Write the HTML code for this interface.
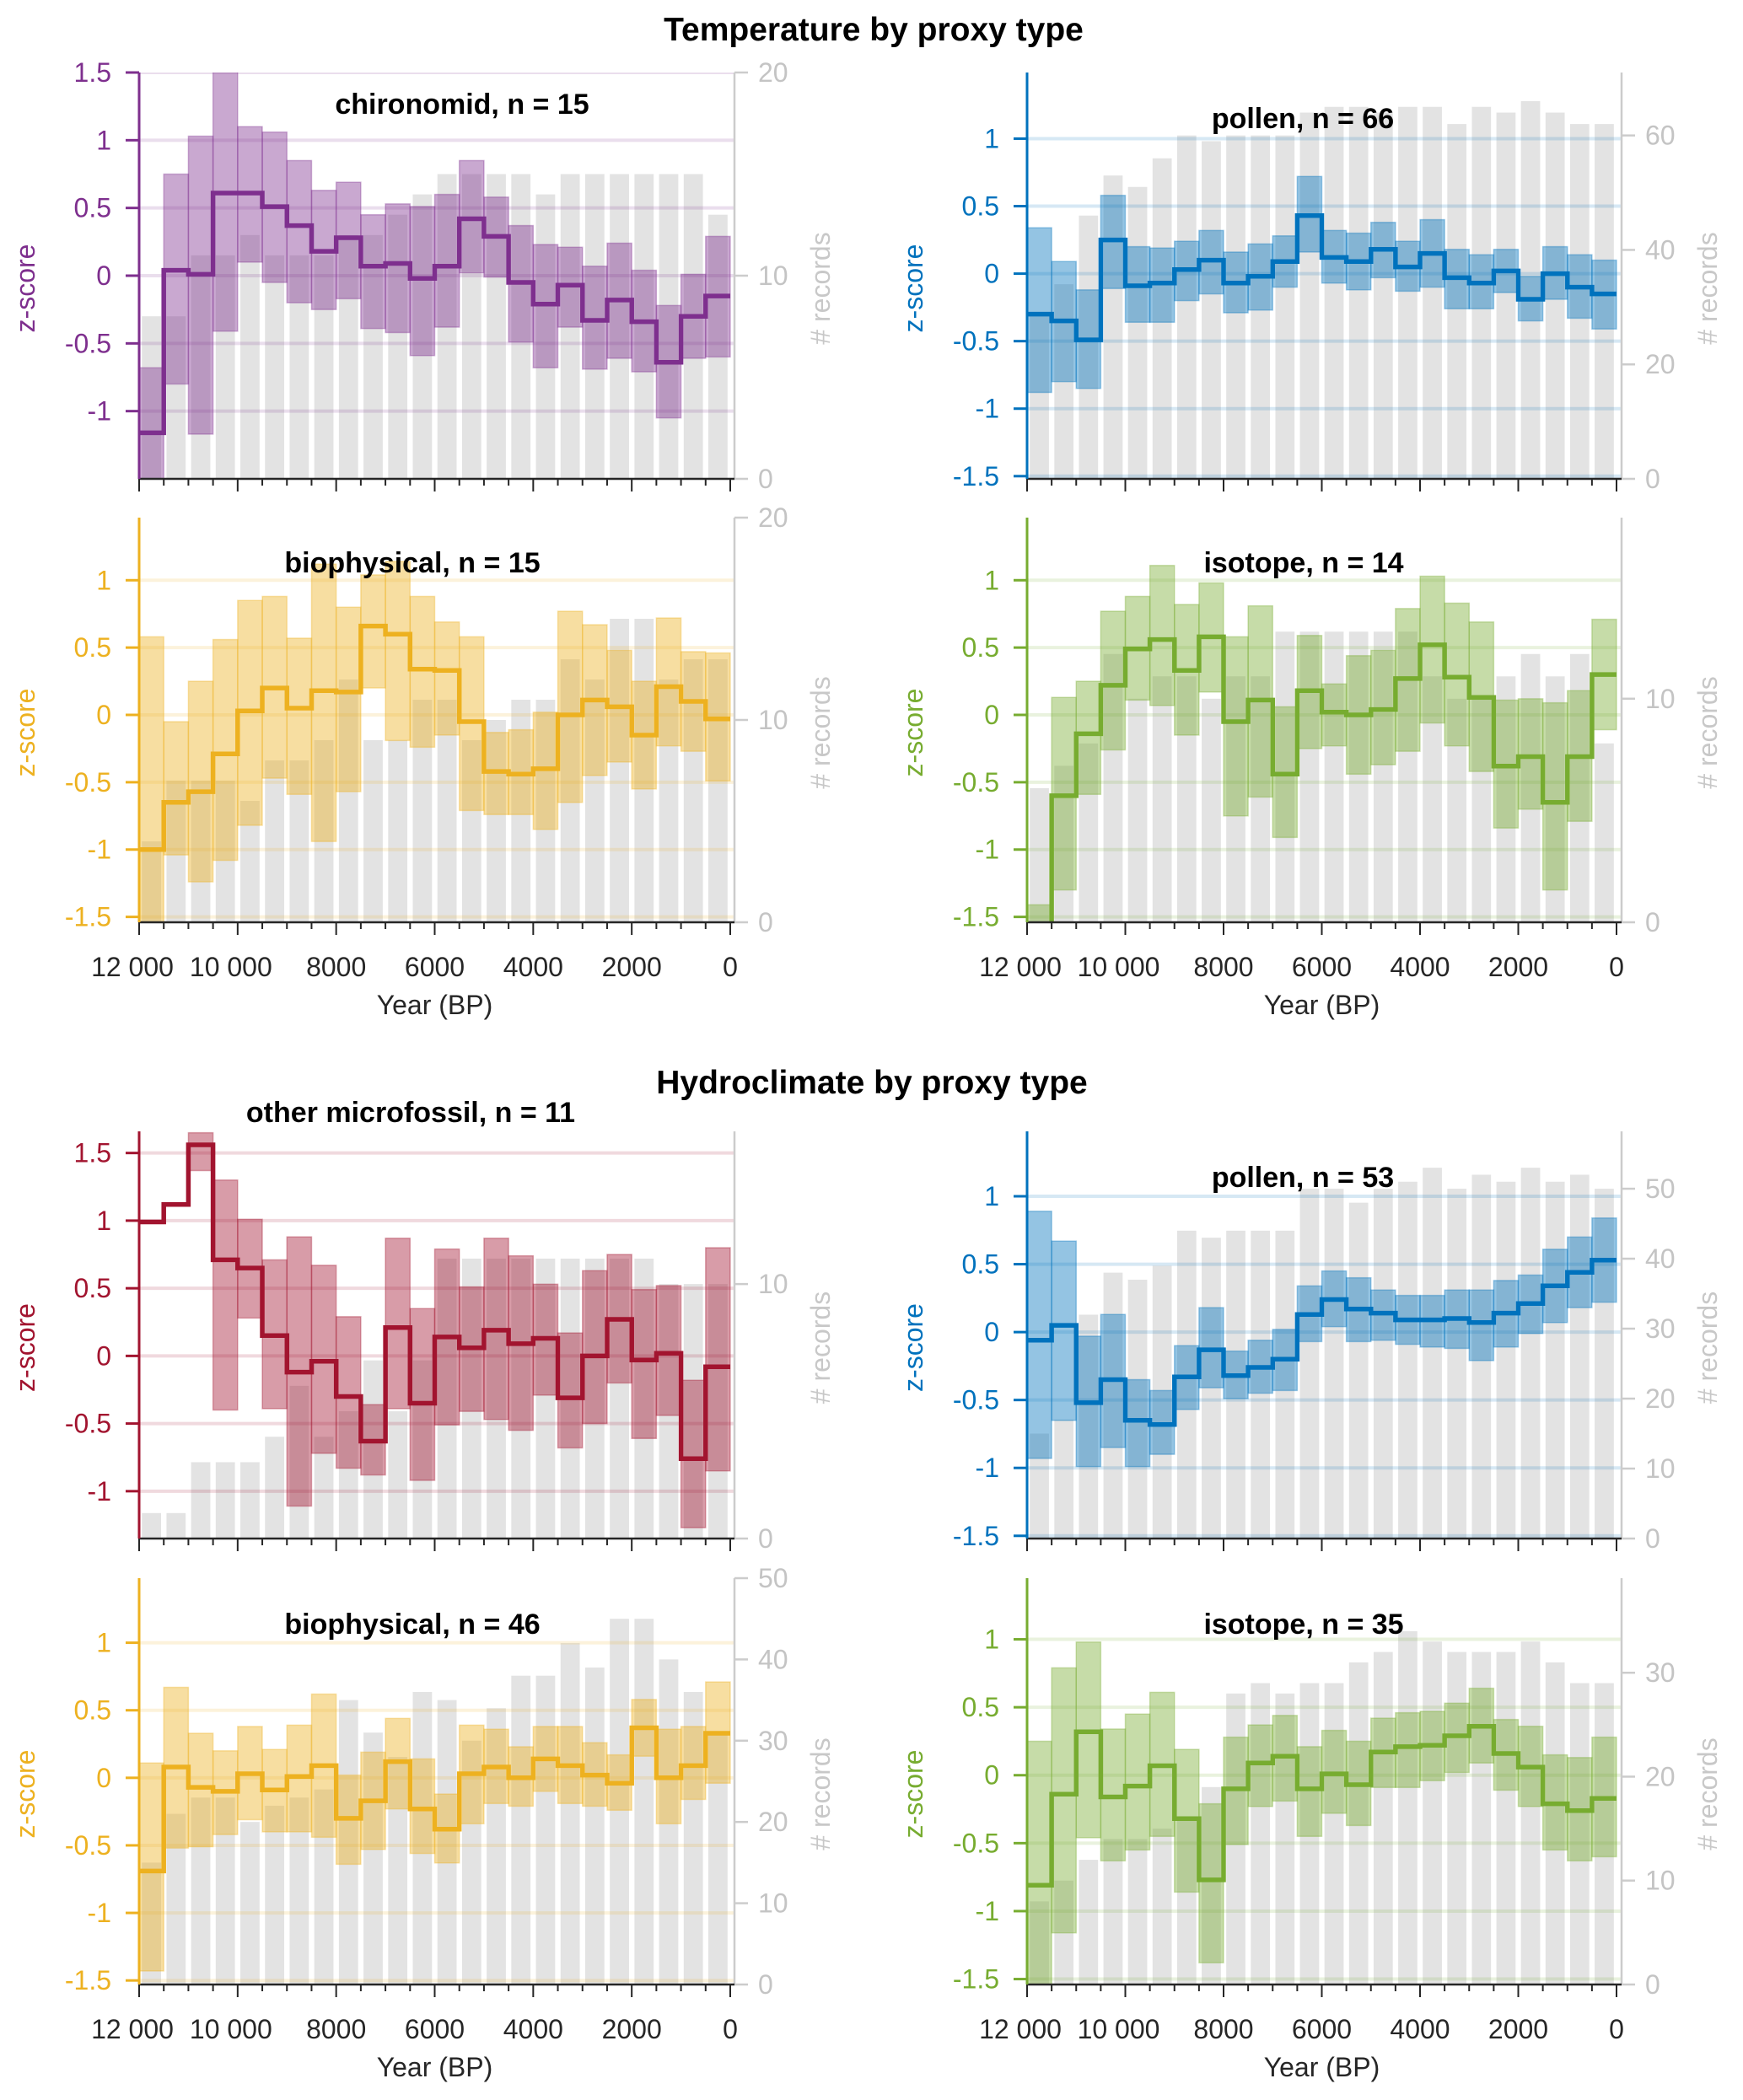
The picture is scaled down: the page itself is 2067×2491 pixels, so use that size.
<!DOCTYPE html>
<html><head><meta charset="utf-8"><style>
html,body{margin:0;padding:0;background:#fff;}
svg{display:block;font-family:"Liberation Sans",Arial,sans-serif;}
</style></head><body>
<svg id="chart" width="2067" height="2491" viewBox="0 0 2067 2491" xmlns="http://www.w3.org/2000/svg">
<text x="1036" y="48" text-anchor="middle" font-size="39" font-weight="bold" fill="#000">Temperature by proxy type</text>
<text x="1034" y="1297" text-anchor="middle" font-size="39" font-weight="bold" fill="#000">Hydroclimate by proxy type</text>
</svg>
<script>
const binCenters=[11750,11250,10750,10250,9750,9250,8750,8250,7750,7250,6750,6250,5750,5250,4750,4250,3750,3250,2750,2250,1750,1250,750,250];
const xTickValues=[12000,10000,8000,6000,4000,2000,0];
const xTickLabels=["12 000","10 000","8000","6000","4000","2000","0"];

const p1Mean=[-1.16,0.04,0.01,0.61,0.61,0.51,0.37,0.18,0.28,0.07,0.09,-0.02,0.07,0.42,0.29,-0.05,-0.21,-0.07,-0.33,-0.18,-0.34,-0.64,-0.30,-0.15];
const p1Hi=[-0.68,0.75,1.03,1.6,1.10,1.06,0.85,0.63,0.69,0.45,0.53,0.51,0.60,0.85,0.58,0.37,0.23,0.21,0.07,0.24,0.04,-0.22,0.01,0.29];
const p1Lo=[-1.65,-0.80,-1.17,-0.41,0.10,-0.05,-0.20,-0.25,-0.17,-0.39,-0.42,-0.59,-0.38,0.02,-0.01,-0.49,-0.68,-0.38,-0.69,-0.61,-0.71,-1.05,-0.61,-0.60];
const p1Count=[8,8,11,11,12,11,11,11,12,12,13,14,15,15,15,15,14,15,15,15,15,15,15,13];

const p2Mean=[-1.00,-0.65,-0.57,-0.29,0.03,0.20,0.05,0.18,0.17,0.66,0.60,0.34,0.33,-0.05,-0.42,-0.44,-0.40,0.00,0.11,0.06,-0.15,0.21,0.10,-0.03];
const p2Hi=[0.58,-0.05,0.25,0.56,0.85,0.88,0.57,1.12,0.80,1.04,1.14,0.88,0.69,0.58,-0.13,-0.11,0.02,0.77,0.67,0.48,0.25,0.72,0.47,0.46];
const p2Lo=[-1.6,-1.04,-1.24,-1.08,-0.82,-0.47,-0.59,-0.94,-0.57,0.20,-0.19,-0.24,-0.15,-0.71,-0.74,-0.74,-0.85,-0.65,-0.45,-0.35,-0.55,-0.23,-0.27,-0.49];
const p2Count=[4,7,7,7,6,8,8,9,12,9,9,11,11,9,10,11,11,13,12,15,15,12,13,13];

const p3Mean=[-0.30,-0.35,-0.49,0.25,-0.09,-0.07,0.03,0.10,-0.07,-0.02,0.09,0.43,0.12,0.09,0.18,0.05,0.15,-0.03,-0.07,0.02,-0.19,0.00,-0.10,-0.15];
const p3Hi=[0.34,0.09,-0.12,0.58,0.20,0.19,0.24,0.32,0.16,0.22,0.28,0.72,0.32,0.30,0.38,0.24,0.40,0.18,0.14,0.18,-0.02,0.20,0.14,0.10];
const p3Lo=[-0.88,-0.80,-0.85,-0.11,-0.36,-0.36,-0.20,-0.15,-0.29,-0.27,-0.10,0.16,-0.07,-0.12,-0.03,-0.13,-0.10,-0.26,-0.26,-0.14,-0.35,-0.19,-0.33,-0.41];
const p3Count=[29,34,46,53,51,56,60,59,60,60,60,64,65,65,64,65,65,62,65,64,66,64,62,62];

const p4Mean=[-1.6,-0.60,-0.14,0.22,0.49,0.56,0.33,0.58,-0.05,0.11,-0.44,0.18,0.02,0.00,0.04,0.27,0.52,0.28,0.13,-0.38,-0.31,-0.65,-0.31,0.30];
const p4Hi=[-1.41,0.13,0.25,0.77,0.88,1.11,0.82,0.98,0.58,0.81,0.06,0.59,0.23,0.44,0.48,0.79,1.03,0.83,0.69,0.11,0.12,0.09,0.18,0.71];
const p4Lo=[-1.6,-1.30,-0.59,-0.26,0.11,0.07,-0.15,0.17,-0.75,-0.61,-0.91,-0.25,-0.23,-0.44,-0.37,-0.27,-0.06,-0.23,-0.42,-0.84,-0.70,-1.30,-0.79,-0.11];
const p4Count=[6,7,8,12,10,11,11,10,11,11,13,13,13,13,13,13,11,10,10,11,12,11,12,8];

const p5Mean=[0.99,1.12,1.56,0.71,0.65,0.15,-0.12,-0.04,-0.30,-0.63,0.21,-0.35,0.14,0.06,0.19,0.09,0.13,-0.31,0.00,0.27,-0.03,0.02,-0.76,-0.08];
const p5Hi=[null,null,1.65,1.30,1.01,0.71,0.88,0.67,0.29,-0.36,0.87,0.35,0.79,0.51,0.87,0.74,0.53,0.17,0.63,0.75,0.49,0.52,-0.18,0.80];
const p5Lo=[null,null,1.37,-0.40,0.28,-0.39,-1.11,-0.72,-0.83,-0.88,-0.39,-0.92,-0.51,-0.41,-0.47,-0.55,-0.29,-0.68,-0.50,-0.20,-0.61,-0.44,-1.27,-0.85];
const p5Count=[1,1,3,3,3,4,6,4,5,7,5,7,11,11,11,11,11,11,11,11,11,10,10,10];

const p6Mean=[-0.69,0.08,-0.07,-0.10,0.03,-0.09,0.01,0.09,-0.30,-0.17,0.12,-0.23,-0.38,0.03,0.08,0.00,0.14,0.09,0.02,-0.04,0.37,0.00,0.09,0.33];
const p6Hi=[0.11,0.67,0.33,0.20,0.38,0.21,0.39,0.62,0.02,0.19,0.44,0.14,-0.12,0.39,0.36,0.23,0.38,0.38,0.26,0.17,0.58,0.36,0.38,0.71];
const p6Lo=[-1.43,-0.52,-0.51,-0.42,-0.31,-0.40,-0.40,-0.44,-0.64,-0.53,-0.23,-0.56,-0.63,-0.34,-0.19,-0.21,-0.10,-0.19,-0.21,-0.24,0.16,-0.34,-0.16,-0.04];
const p6Count=[15,21,23,23,20,22,23,24,35,31,28,36,35,30,34,38,38,42,39,45,45,40,36,31];

const p7Mean=[-0.06,0.05,-0.52,-0.35,-0.65,-0.68,-0.33,-0.13,-0.32,-0.26,-0.20,0.13,0.24,0.17,0.14,0.09,0.09,0.10,0.07,0.14,0.21,0.34,0.44,0.53];
const p7Hi=[0.89,0.67,-0.03,0.13,-0.35,-0.43,-0.10,0.18,-0.14,-0.06,0.02,0.34,0.45,0.40,0.31,0.27,0.27,0.31,0.31,0.38,0.42,0.61,0.70,0.84];
const p7Lo=[-0.93,-0.65,-0.99,-0.85,-0.99,-0.90,-0.57,-0.41,-0.49,-0.45,-0.43,-0.07,0.04,-0.07,-0.06,-0.09,-0.11,-0.12,-0.21,-0.11,-0.01,0.07,0.18,0.22];
const p7Count=[15,17,32,38,37,39,44,43,44,44,44,50,50,48,50,51,53,50,52,51,53,51,52,50];

const p8Mean=[-0.81,-0.14,0.32,-0.16,-0.08,0.07,-0.32,-0.77,-0.10,0.09,0.14,-0.10,0.01,-0.07,0.17,0.21,0.22,0.29,0.36,0.16,0.06,-0.21,-0.26,-0.17];
const p8Hi=[0.25,0.79,0.98,0.34,0.45,0.61,0.19,-0.21,0.28,0.37,0.44,0.21,0.33,0.25,0.42,0.46,0.47,0.53,0.64,0.41,0.36,0.15,0.13,0.28];
const p8Lo=[-1.6,-1.16,-0.46,-0.63,-0.55,-0.45,-0.86,-1.38,-0.51,-0.23,-0.19,-0.45,-0.28,-0.37,-0.09,-0.09,-0.04,0.02,0.09,-0.11,-0.23,-0.55,-0.63,-0.60];
const p8Count=[8,10,12,14,14,15,16,19,28,29,28,29,29,31,32,34,33,32,32,32,33,31,29,29];

const svg=document.getElementById('chart');
const NS='http://www.w3.org/2000/svg';
function mk(tag,attrs,parent){const e=document.createElementNS(NS,tag);for(const k in attrs)e.setAttribute(k,attrs[k]);(parent||svg).appendChild(e);return e;}

function drawPanel(cfg,mean,hi,lo,count){
  const g=mk('g',{});
  
  
  const xs=y=>cfg.x0+(12000-y)/12000*(cfg.x1-cfg.x0);
  const yz=z=>cfg.top+(cfg.zmax-z)/(cfg.zmax-cfg.zmin)*(cfg.bot-cfg.top);
  const yr=c=>cfg.bot-c/cfg.rmax*(cfg.bot-cfg.top);
  const binW=(cfg.x1-cfg.x0)/24;
  const cid='clip-'+cfg.name;
  const cp=mk('clipPath',{id:cid},g);
  mk('rect',{x:cfg.x0,y:cfg.top,width:cfg.xr-cfg.x0,height:cfg.bot-cfg.top},cp);
  const plot=mk('g',{'clip-path':'url(#'+cid+')'},g);
  binCenters.forEach((yr0,i)=>{
    const b=mk('rect',{x:xs(yr0)-binW*0.39,y:yr(count[i]),width:binW*0.78,height:cfg.bot-yr(count[i]),fill:'#e3e3e3'},plot);
    
    
  });
  cfg.zTicks.forEach(v=>{
    const l=mk('line',{x1:cfg.x0,x2:cfg.xr,y1:yz(v),y2:yz(v),stroke:cfg.color,'stroke-opacity':0.16,'stroke-width':4},plot);
    
    
  });
  binCenters.forEach((yr0,i)=>{
    if(hi[i]===null||lo[i]===null)return;
    const b=mk('rect',{x:xs(yr0+250),y:yz(hi[i]),width:binW,height:yz(lo[i])-yz(hi[i]),fill:cfg.color,'fill-opacity':0.42,stroke:cfg.color,'stroke-opacity':0.35,'stroke-width':1.5},plot);
    
    
  });
  let d='';
  binCenters.forEach((yr0,i)=>{
    const a=xs(yr0+250),b=xs(yr0-250),y=yz(mean[i]);
    d+=(i===0?'M':'L')+a.toFixed(1)+','+y.toFixed(1)+'L'+b.toFixed(1)+','+y.toFixed(1);
  });
  const ml=mk('path',{d:d,fill:'none',stroke:cfg.color,'stroke-width':5.5,'stroke-linejoin':'miter'},plot);
  
  
  const ra=mk('line',{x1:cfg.xr,x2:cfg.xr,y1:cfg.top,y2:cfg.bot,stroke:'#cccccc','stroke-width':2.5},g);
  
  
  cfg.rTicks.forEach(v=>{
    mk('line',{x1:cfg.xr,x2:cfg.xr+16,y1:yr(v),y2:yr(v),stroke:'#cccccc','stroke-width':2.5},g);
    const t=mk('text',{x:cfg.xr+28,y:yr(v)+11,'font-size':32,fill:'#c4c4c4'},g);
    t.textContent=v;
    
    
  });
  const rl=mk('text',{x:0,y:0,'font-size':32,fill:'#c8c8c8','text-anchor':'middle',transform:'translate('+(cfg.xr+113)+','+((cfg.top+cfg.bot)/2+15)+') rotate(-90)'},g);
  rl.textContent='# records';
  
  
  const ba=mk('line',{x1:cfg.x0,x2:cfg.xr,y1:cfg.bot,y2:cfg.bot,stroke:'#262626','stroke-width':2.5},g);
  
  
  for(let yv=12000;yv>=0;yv-=500){
    const major=yv%2000===0;
    mk('line',{x1:xs(yv),x2:xs(yv),y1:cfg.bot,y2:cfg.bot+(major?15:8),stroke:'#262626','stroke-width':2},g);
  }
  if(cfg.xlabels){
    xTickValues.forEach((v,i)=>{
      const t=mk('text',{x:xs(v)-(v>=10000?8:0),y:cfg.bot+64,'font-size':32,fill:'#262626','text-anchor':'middle'},g);
      t.textContent=xTickLabels[i];
      
      
    });
    const xt=mk('text',{x:(cfg.x0+cfg.x1)/2,y:cfg.bot+109,'font-size':32,fill:'#262626','text-anchor':'middle'},g);
    xt.textContent='Year (BP)';
    
    
  }
  const la=mk('line',{x1:cfg.x0,x2:cfg.x0,y1:cfg.top,y2:cfg.bot,stroke:cfg.color,'stroke-width':3},g);
  
  
  cfg.zTicks.forEach(v=>{
    mk('line',{x1:cfg.x0-16,x2:cfg.x0,y1:yz(v),y2:yz(v),stroke:cfg.color,'stroke-width':3},g);
    const t=mk('text',{x:cfg.x0-33,y:yz(v)+11,'font-size':32,fill:cfg.color,'text-anchor':'end'},g);
    t.textContent=String(v);
    
    
  });
  const zl=mk('text',{x:0,y:0,'font-size':32,fill:cfg.color,'text-anchor':'middle',transform:'translate('+(cfg.x0-124)+','+((cfg.top+cfg.bot)/2+15)+') rotate(-90)'},g);
  zl.textContent='z-score';
  
  
  const tt=mk('text',{x:cfg.titleX,y:cfg.titleY+12,'font-size':34,'font-weight':'bold',fill:'#000','text-anchor':'middle'},g);
  tt.textContent=cfg.title;
  
  
}

const L={x0:165,x1:866,xr:871}, R={x0:1218,x1:1917,xr:1923};
const zA=[-1.5,-1,-0.5,0,0.5,1];
drawPanel(Object.assign({name:'temp-chironomid',title:'chironomid, n = 15',color:'#7e2f8e',top:86,bot:568,zmin:-1.5,zmax:1.5,rmax:20,zTicks:[-1,-0.5,0,0.5,1,1.5],rTicks:[0,10,20],titleX:548,titleY:123},L),p1Mean,p1Hi,p1Lo,p1Count);
drawPanel(Object.assign({name:'temp-biophysical',title:'biophysical, n = 15',color:'#edb120',top:614,bot:1094,zmin:-1.54,zmax:1.465,rmax:20,zTicks:zA,rTicks:[0,10,20],titleX:489,titleY:667,xlabels:true},L),p2Mean,p2Hi,p2Lo,p2Count);
drawPanel(Object.assign({name:'temp-pollen',title:'pollen, n = 66',color:'#0072bd',top:86,bot:568,zmin:-1.52,zmax:1.49,rmax:71,zTicks:zA,rTicks:[0,20,40,60],titleX:1545,titleY:140},R),p3Mean,p3Hi,p3Lo,p3Count);
drawPanel(Object.assign({name:'temp-isotope',title:'isotope, n = 14',color:'#77ac30',top:614,bot:1094,zmin:-1.54,zmax:1.465,rmax:18.1,zTicks:zA,rTicks:[0,10],titleX:1546,titleY:667,xlabels:true},R),p4Mean,p4Hi,p4Lo,p4Count);
drawPanel(Object.assign({name:'hydro-microfossil',title:'other microfossil, n = 11',color:'#a2142f',top:1342,bot:1825,zmin:-1.35,zmax:1.66,rmax:16,zTicks:[-1,-0.5,0,0.5,1,1.5],rTicks:[0,10],titleX:487,titleY:1319},L),p5Mean,p5Hi,p5Lo,p5Count);
drawPanel(Object.assign({name:'hydro-biophysical',title:'biophysical, n = 46',color:'#edb120',top:1872,bot:2354,zmin:-1.53,zmax:1.478,rmax:50,zTicks:zA,rTicks:[0,10,20,30,40,50],titleX:489,titleY:1926,xlabels:true},L),p6Mean,p6Hi,p6Lo,p6Count);
drawPanel(Object.assign({name:'hydro-pollen',title:'pollen, n = 53',color:'#0072bd',top:1342,bot:1825,zmin:-1.52,zmax:1.478,rmax:58.2,zTicks:zA,rTicks:[0,10,20,30,40,50],titleX:1545,titleY:1396},R),p7Mean,p7Hi,p7Lo,p7Count);
drawPanel(Object.assign({name:'hydro-isotope',title:'isotope, n = 35',color:'#77ac30',top:1872,bot:2354,zmin:-1.54,zmax:1.45,rmax:39.1,zTicks:zA,rTicks:[0,10,20,30],titleX:1546,titleY:1926,xlabels:true},R),p8Mean,p8Hi,p8Lo,p8Count);
</script>
</body></html>
